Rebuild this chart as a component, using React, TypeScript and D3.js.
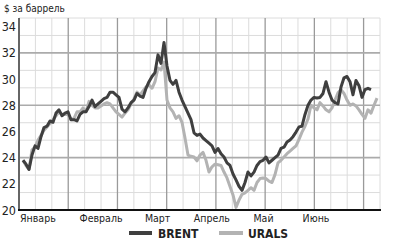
import React from 'react';
import * as d3 from 'd3';

const yTicks = [20, 22, 24, 26, 28, 30, 32, 34];
const months = ['Январь', 'Февраль', 'Март', 'Апрель', 'Май', 'Июнь'];
const monthGridPos = [1.15, 5, 8.45, 11.75, 14.9, 18.1];

const brent = [
  23.8, 23.5, 23.1, 24.2, 24.9, 24.7, 25.6, 26.3, 26.4, 26.8,
  26.7, 27.4, 27.65, 27.2, 27.4, 27.5, 26.9, 26.9, 26.8, 27.3,
  27.5, 27.5, 27.9, 28.4, 27.9, 28.1, 28.3, 28.5, 28.6, 29.0,
  29.0, 28.8, 28.6, 27.7, 27.5, 27.8, 28.2, 28.4, 28.9, 28.7,
  28.6, 29.3, 29.8, 30.2, 30.5, 31.85, 31.2, 32.8, 31.0, 29.9,
  29.6, 29.9, 29.0, 28.4, 27.9, 27.4, 26.9, 25.9, 25.7, 25.8,
  25.5, 25.3, 25.1, 24.9, 24.4, 24.7, 24.3, 24.05, 23.6, 23.4,
  22.75, 22.3, 21.8, 21.5, 22.1, 22.9, 22.6, 22.9, 23.4, 23.7,
  23.8, 24.05, 23.6, 23.8, 24.0, 24.2, 24.7, 24.8, 25.2, 25.35,
  25.6, 25.95, 26.35, 26.4, 27.3, 28.0, 28.4, 28.6, 28.55, 28.6,
  28.9, 29.8, 29.0, 28.4, 28.2, 28.1, 29.4, 30.1, 30.2, 29.8,
  28.8, 29.9, 29.5, 28.6, 29.2, 29.3, 29.2,
];

const urals = [
  23.8, 23.4, 23.1, 24.6, 24.8, 25.35, 25.7, 26.1, 26.35, 26.6,
  26.9, 27.2, 27.5, 27.3, 27.3, 27.3, 26.9, 27.0, 27.5, 27.5,
  27.8, 27.5, 28.3, 28.0, 27.8, 27.8, 27.95, 28.1, 28.2, 28.1,
  27.8, 27.5, 27.3, 27.1, 27.4, 27.65, 28.1, 28.5, 29.0, 28.8,
  29.1, 29.4, 29.55, 29.3, 29.8, 30.85, 30.7, 31.3, 28.4, 27.8,
  27.5, 27.0, 27.2, 26.7, 25.5, 24.2, 24.1, 24.05, 23.75, 24.2,
  24.4, 23.8, 22.9, 23.3, 23.5, 23.45, 23.4, 22.9, 22.45, 21.8,
  21.15, 20.2, 20.75, 21.2, 21.3, 21.5, 21.7, 21.5, 22.1, 22.4,
  22.45, 22.4, 22.2, 22.1, 22.7, 23.6, 23.8, 24.05, 24.3, 24.5,
  24.7, 24.9, 25.4, 25.95, 26.4, 26.95, 28.0, 27.8, 27.65, 28.2,
  27.95, 27.65, 27.5, 27.8, 28.4, 28.95, 29.2, 28.9, 28.4, 28.0,
  28.1, 27.95, 27.65, 27.3, 27.0, 27.65, 27.4, 28.0, 28.55,
];

const seriesNames = ['BRENT', 'URALS'];
const seriesColors = ['#3f3f3f', '#b3b3b3'];

const FONT = '"Liberation Sans Narrow", "DejaVu Sans Condensed", "Roboto Condensed", sans-serif';

export default function App() {
  const W = 399, H = 244;
  const left = 19, right = 380, top = 18, bottom = 210;
  const y = d3.scaleLinear().domain([20, 20 + 11 * 4 / 3]).range([bottom, top]);
  const x = d3.scaleLinear().domain([0, 118]).range([23, 377]);
  const gx = d3.scaleLinear().domain([0, 22]).range([left, right]);

  const line = d3.line<number>().x((_, i) => x(i)).y(d => y(d)).curve(d3.curveLinear);

  const vLines = d3.range(1, 23);
  const hLines = d3.range(1, 12).map(k => 20 + k * 4 / 3);

  return (
    <svg width={W} height={H} style={{ position: 'absolute', left: 0, top: 0, background: '#fff' }}>
      {/* minor grid */}
      {vLines.filter(i => i % 3 !== 0).map(i => (
        <line key={'vm' + i} x1={gx(i)} x2={gx(i)} y1={top} y2={bottom} stroke="#dcdcdc" strokeWidth={1} />
      ))}
      {hLines.map((v, k) => ((k + 1) % 3 !== 0 ? (
        <line key={'hm' + k} x1={left} x2={right} y1={y(v)} y2={y(v)} stroke="#dcdcdc" strokeWidth={1} />
      ) : null))}
      {/* major grid */}
      {vLines.filter(i => i % 3 === 0).map(i => (
        <line key={'vM' + i} x1={gx(i)} x2={gx(i)} y1={top} y2={bottom} stroke="#9a9a9a" strokeWidth={1.3} />
      ))}
      {hLines.map((v, k) => ((k + 1) % 3 === 0 ? (
        <line key={'hM' + k} x1={left} x2={right} y1={y(v)} y2={y(v)} stroke="#ababab" strokeWidth={1.6} />
      ) : null))}

      {/* series */}
      <path d={line(urals) || ''} fill="none" stroke={seriesColors[1]} strokeWidth={3} strokeLinejoin="round" />
      <path d={line(brent) || ''} fill="none" stroke={seriesColors[0]} strokeWidth={3} strokeLinejoin="round" />

      {/* axes */}
      <line x1={left} x2={left} y1={top} y2={bottom} stroke="#666" strokeWidth={2} />
      <line x1={left - 1} x2={right + 1} y1={bottom} y2={bottom} stroke="#111" strokeWidth={2} />

      {/* y tick labels */}
      {yTicks.map(t => (
        <text key={t} x={16} y={y(t)} dy="0.36em" textAnchor="end" fontFamily={FONT} fontSize={12.5} fill="#222">{t}</text>
      ))}
      <text x={4} y={12} fontFamily={FONT} fontSize={10} fill="#222">$ за баррель</text>

      {/* month labels */}
      {months.map((m, i) => (
        <text key={m} x={gx(monthGridPos[i])} y={222} textAnchor="middle" fontFamily={FONT} fontSize={10.5} fill="#222">{m}</text>
      ))}

      {/* legend */}
      <line x1={129} x2={152} y1={233} y2={233} stroke={seriesColors[0]} strokeWidth={4} />
      <text x={158} y={237.5} fontFamily={FONT} fontSize={12} fontWeight="bold" fill="#222">{seriesNames[0]}</text>
      <line x1={219} x2={243} y1={233} y2={233} stroke={seriesColors[1]} strokeWidth={4} />
      <text x={248} y={237.5} fontFamily={FONT} fontSize={12} fontWeight="bold" fill="#222">{seriesNames[1]}</text>
    </svg>
  );
}
